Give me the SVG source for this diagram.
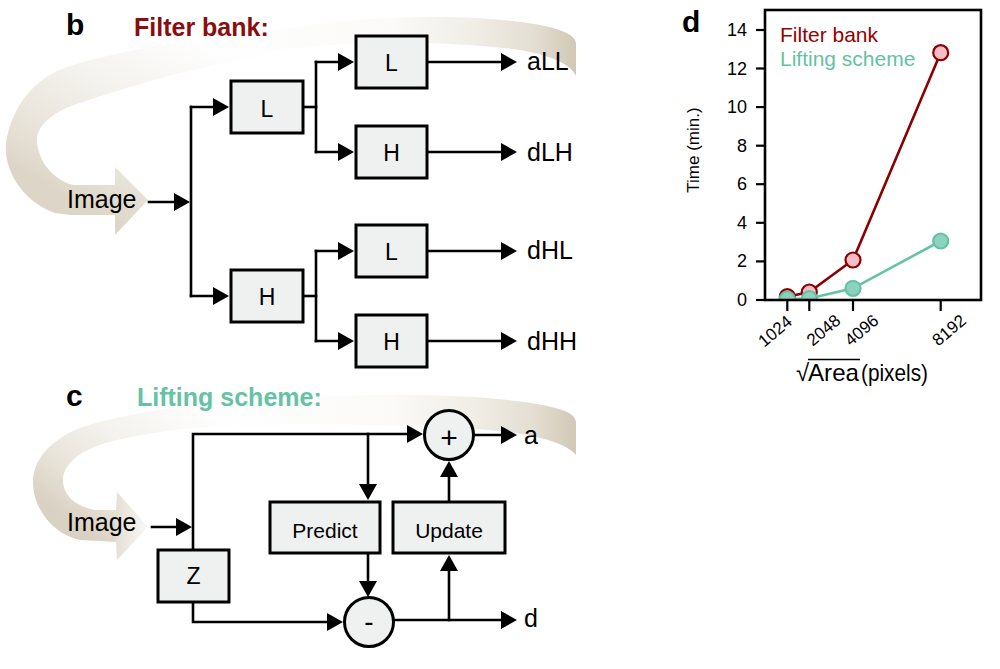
<svg xmlns="http://www.w3.org/2000/svg" width="1000" height="669" viewBox="0 0 1000 669">
<defs>
  <linearGradient id="gAb" gradientUnits="userSpaceOnUse" x1="240" y1="0" x2="577" y2="0">
    <stop offset="0" stop-color="#fefefe"/>
    <stop offset="0.45" stop-color="#fbfaf8"/>
    <stop offset="0.7" stop-color="#f0ede6"/>
    <stop offset="0.88" stop-color="#e3ddd1"/>
    <stop offset="1" stop-color="#d1c7b4"/>
  </linearGradient>
  <linearGradient id="gBb" gradientUnits="userSpaceOnUse" x1="200" y1="40" x2="100" y2="215">
    <stop offset="0" stop-color="#fefefe"/>
    <stop offset="0.44" stop-color="#f4f2ed"/>
    <stop offset="0.75" stop-color="#eae5dc"/>
    <stop offset="1" stop-color="#ddd6c8"/>
  </linearGradient>
  <linearGradient id="gAc" gradientUnits="userSpaceOnUse" x1="240" y1="0" x2="577" y2="0">
    <stop offset="0" stop-color="#fefefe"/>
    <stop offset="0.45" stop-color="#fbfaf8"/>
    <stop offset="0.7" stop-color="#f0ede6"/>
    <stop offset="0.88" stop-color="#e3ddd1"/>
    <stop offset="1" stop-color="#d1c7b4"/>
  </linearGradient>
  <linearGradient id="gBc" gradientUnits="userSpaceOnUse" x1="200" y1="405" x2="95" y2="542">
    <stop offset="0" stop-color="#fefefe"/>
    <stop offset="0.44" stop-color="#f4f2ed"/>
    <stop offset="0.75" stop-color="#e9e4da"/>
    <stop offset="1" stop-color="#d9d1c2"/>
  </linearGradient>
  <linearGradient id="gHc" gradientUnits="userSpaceOnUse" x1="100" y1="0" x2="150" y2="0">
    <stop offset="0" stop-color="#dcd4c5"/>
    <stop offset="0.35" stop-color="#e6e1d6"/>
    <stop offset="1" stop-color="#fbfaf8"/>
  </linearGradient>
  <marker id="arr" viewBox="0 0 16 18" markerWidth="16" markerHeight="18" refX="10" refY="9" orient="auto" markerUnits="userSpaceOnUse">
    <path d="M0,0 L16,9 L0,18 Z" fill="#000"/>
  </marker>
  <clipPath id="plotclip">
    <rect x="765" y="10" width="216" height="290"/>
  </clipPath>
</defs>
<style>
  text{font-family:"Liberation Sans",Arial,Helvetica,sans-serif;fill:#000}
  .box{fill:#eff1f0;stroke:#000;stroke-width:3}
  .ln{fill:none;stroke:#000;stroke-width:2.6;stroke-linecap:square;stroke-linejoin:miter}
  .ar{marker-end:url(#arr)}
  .panel{font-size:30px;font-weight:bold}
  .title{font-size:25px;font-weight:bold}
  .lbl{font-size:25px}
  .bx{font-size:23px;text-anchor:middle}
  .bx2{font-size:21px;text-anchor:middle}
  .tick{stroke:#000;stroke-width:2.2}
  .ytl{font-size:18px;text-anchor:end}
  .xtl{font-size:17px;text-anchor:middle}
  .red{fill:none;stroke:#8b0000;stroke-width:2.6}
  .redm{fill:#f7bcc4;stroke:#8b0000;stroke-width:2.2}
  .teal{fill:none;stroke:#66c2a5;stroke-width:2.6}
  .tealm{fill:#8ed1bf;stroke:#66c2a5;stroke-width:2.2}
</style>
<rect x="0" y="0" width="1000" height="669" fill="#fff"/>

<!-- decorative swoosh bands -->
<g id="band-b">
  <path fill="url(#gAb)" d="M240,36 C290,27 350,18 420,17 C480,16 540,22 562,31 C572,35 576,39 576,44 L576,76 C572,66 555,56 520,50 C470,43 400,41 330,45 C300,47 270,51 240,56 Z"/>
  <path fill="url(#gBb)" d="M262,34 C190,40 120,50 67,67 C35,78 12,105 6,143 C3,172 25,203 55,213 L70,215 L115,215 L115,235 L148,200 L115,167 L115,185 L73,185 C55,180 40,165 37,143 C35,125 55,110 83,102 C130,86 200,66 262,56 Z"/>
</g>
<g id="band-c">
  <path fill="url(#gAc)" d="M240,402 C300,397 350,394 420,395 C490,396 545,403 565,411 C572,414 576,418 576,423 L576,455 C570,447 550,438 515,433 C470,427 420,426 360,425 C320,424 280,424 240,426 Z"/>
  <path fill="url(#gBc)" d="M262,400 C190,404 120,414 80,428 C50,440 33,460 33,482 C33,510 55,535 80,540 L117,542 L117,510 L95,510 C75,506 63,495 63,480 C63,462 85,447 117,440 C160,430 210,425 262,424 Z"/>
  <path fill="url(#gHc)" d="M116,510 L117,492 L148,527 L117,560 L116,542 Z"/>
</g>

<!-- panel labels and titles -->
<text class="panel" x="66" y="35">b</text>
<text class="title" x="134" y="36" style="fill:#8b0d0d">Filter bank:</text>
<text class="panel" x="66" y="406">c</text>
<text class="title" x="137" y="406" style="fill:#66c2a5">Lifting scheme:</text>
<text class="panel" x="682" y="32">d</text>

<!-- connectors -->
<g id="connectors">
  <!-- panel b -->
  <path class="ln ar" d="M149,202 H184"/>
  <path class="ln" d="M191,107 V296"/>
  <path class="ln ar" d="M191,107 H223"/>
  <path class="ln ar" d="M191,296 H223"/>
  <path class="ln" d="M303,107 H316"/>
  <path class="ln" d="M316,62 V152"/>
  <path class="ln ar" d="M316,62 H348"/>
  <path class="ln ar" d="M316,152 H348"/>
  <path class="ln" d="M303,296 H316"/>
  <path class="ln" d="M316,251 V341"/>
  <path class="ln ar" d="M316,251 H348"/>
  <path class="ln ar" d="M316,341 H348"/>
  <path class="ln ar" d="M427,62 H511"/>
  <path class="ln ar" d="M427,152 H511"/>
  <path class="ln ar" d="M427,251 H511"/>
  <path class="ln ar" d="M427,341 H511"/>
  <!-- panel c -->
  <path class="ln ar" d="M193,550 V434 H417"/>
  <path class="ln ar" d="M368,434 V494"/>
  <path class="ln ar" d="M475,435 H511"/>
  <path class="ln ar" d="M449,502 V467"/>
  <path class="ln ar" d="M368,553 V591"/>
  <path class="ln ar" d="M152,527 H186"/>
  <path class="ln ar" d="M193,602 V622 H337"/>
  <path class="ln ar" d="M395,620 H511"/>
  <path class="ln ar" d="M449,620 V561"/>
</g>

<!-- panel b nodes -->
<g id="b-image"><text class="lbl" x="67" y="208">Image</text></g>
<g id="b-L1"><rect class="box" x="231" y="81" width="72" height="52"/><text class="bx" x="267" y="117">L</text></g>
<g id="b-H1"><rect class="box" x="231" y="270" width="72" height="52"/><text class="bx" x="267" y="305">H</text></g>
<g id="b-LL"><rect class="box" x="356" y="36" width="71" height="52"/><text class="bx" x="391.5" y="71">L</text></g>
<g id="b-LH"><rect class="box" x="356" y="126" width="71" height="52"/><text class="bx" x="391.5" y="161">H</text></g>
<g id="b-HL"><rect class="box" x="356" y="225" width="71" height="52"/><text class="bx" x="391.5" y="260">L</text></g>
<g id="b-HH"><rect class="box" x="356" y="315" width="71" height="52"/><text class="bx" x="391.5" y="350">H</text></g>
<g id="b-aLL"><text class="lbl" x="527" y="70">aLL</text></g>
<g id="b-dLH"><text class="lbl" x="527" y="161">dLH</text></g>
<g id="b-dHL"><text class="lbl" x="527" y="259">dHL</text></g>
<g id="b-dHH"><text class="lbl" x="527" y="350">dHH</text></g>

<!-- panel c nodes -->
<g id="c-image"><text class="lbl" x="67" y="531">Image</text></g>
<g id="c-Z"><rect class="box" x="158" y="550" width="71" height="52"/><text class="bx" x="193.5" y="584">Z</text></g>
<g id="c-predict"><rect class="box" x="270" y="502" width="110" height="51"/><text class="bx2" x="325" y="538">Predict</text></g>
<g id="c-update"><rect class="box" x="393" y="502" width="112" height="51"/><text class="bx2" x="449" y="538">Update</text></g>
<g id="c-plus"><circle class="box" cx="449" cy="435" r="24.5"/><text x="449" y="447.5" font-size="30" text-anchor="middle">+</text></g>
<g id="c-minus"><circle class="box" cx="369" cy="622" r="24.5"/><text x="369" y="631" font-size="28" text-anchor="middle">-</text></g>
<g id="c-a"><text class="lbl" x="524" y="444">a</text></g>
<g id="c-d"><text class="lbl" x="524" y="627">d</text></g>

<!-- panel d chart -->
<g id="chart">
  <g clip-path="url(#plotclip)">
    <polyline class="red" points="787.3,296.7 809.3,292 853,260 940.7,52.7"/>
    <circle class="redm" cx="787.3" cy="296.7" r="7.5"/>
    <circle class="redm" cx="809.3" cy="292" r="7.5"/>
    <circle class="redm" cx="853" cy="260" r="7.5"/>
    <circle class="redm" cx="940.7" cy="52.7" r="7.5"/>
    <polyline class="teal" points="787.3,299 809.3,298.5 853,288.3 940.7,241"/>
    <circle class="tealm" cx="787.3" cy="299" r="7.5"/>
    <circle class="tealm" cx="809.3" cy="298.5" r="7.5"/>
    <circle class="tealm" cx="853" cy="288.3" r="7.5"/>
    <circle class="tealm" cx="940.7" cy="241" r="7.5"/>
  </g>
  <rect x="765" y="10" width="216" height="290" fill="none" stroke="#000" stroke-width="2.6"/>
  <g id="yticks">
    <line class="tick" x1="756" y1="300" x2="765" y2="300"/>
    <line class="tick" x1="756" y1="261.4" x2="765" y2="261.4"/>
    <line class="tick" x1="756" y1="222.8" x2="765" y2="222.8"/>
    <line class="tick" x1="756" y1="184.2" x2="765" y2="184.2"/>
    <line class="tick" x1="756" y1="145.7" x2="765" y2="145.7"/>
    <line class="tick" x1="756" y1="107.1" x2="765" y2="107.1"/>
    <line class="tick" x1="756" y1="68.5" x2="765" y2="68.5"/>
    <line class="tick" x1="756" y1="30" x2="765" y2="30"/>
    <text class="ytl" x="747" y="306">0</text>
    <text class="ytl" x="747" y="267.4">2</text>
    <text class="ytl" x="747" y="228.8">4</text>
    <text class="ytl" x="747" y="190.2">6</text>
    <text class="ytl" x="747" y="151.7">8</text>
    <text class="ytl" x="747" y="113.1">10</text>
    <text class="ytl" x="747" y="74.5">12</text>
    <text class="ytl" x="747" y="36">14</text>
  </g>
  <g id="xticks">
    <line class="tick" x1="787.3" y1="300" x2="787.3" y2="311"/>
    <line class="tick" x1="809.3" y1="300" x2="809.3" y2="311"/>
    <line class="tick" x1="853" y1="300" x2="853" y2="311"/>
    <line class="tick" x1="940.7" y1="300" x2="940.7" y2="311"/>
    <text class="xtl" x="775" y="337" transform="rotate(-40 775 331)">1024</text>
    <text class="xtl" x="823.3" y="336" transform="rotate(-40 823.3 330)">2048</text>
    <text class="xtl" x="861.5" y="336" transform="rotate(-40 861.5 330)">4096</text>
    <text class="xtl" x="949" y="336" transform="rotate(-40 949 330)">8192</text>
  </g>
  <text x="0" y="0" font-size="17" text-anchor="middle" transform="translate(698.5,150) rotate(-90)">Time (min.)</text>
  <text x="796" y="381" font-size="24">√</text>
  <line x1="808" y1="359.5" x2="860" y2="359.5" stroke="#000" stroke-width="1.6"/>
  <text x="808" y="381" font-size="24" textLength="51" lengthAdjust="spacingAndGlyphs">Area</text>
  <text x="861" y="381" font-size="24" textLength="67" lengthAdjust="spacingAndGlyphs">(pixels)</text>
  <text x="780" y="42" font-size="21" style="fill:#990000">Filter bank</text>
  <text x="780" y="66" font-size="21" style="fill:#66c2a5">Lifting scheme</text>
</g>
</svg>
